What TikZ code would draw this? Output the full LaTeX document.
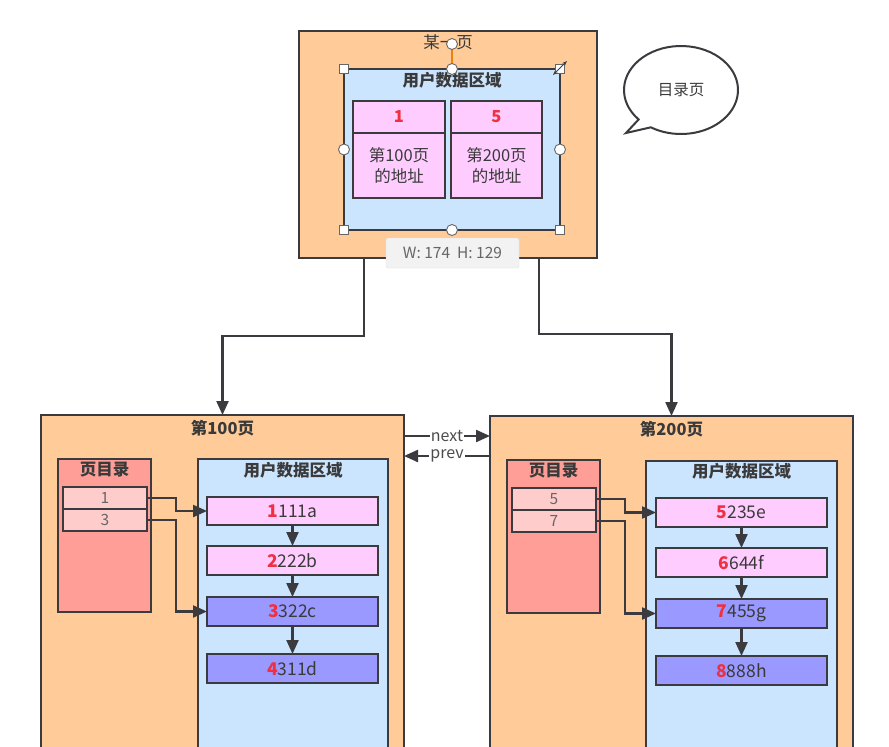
\documentclass[tikz,border=0pt]{standalone}
\usepackage{fontspec}
\setmainfont{Noto Sans CJK SC}
\usetikzlibrary{arrows.meta,calc}
\definecolor{peach}{HTML}{FFCC99}
\definecolor{ublue}{HTML}{CCE5FF}
\definecolor{upink}{HTML}{FFCCFF}
\definecolor{upurple}{HTML}{9999FF}
\definecolor{dirred}{HTML}{FF9E96}
\definecolor{entryc}{HTML}{FFCCCC}
\definecolor{bord}{HTML}{3A3A3F}
\definecolor{numred}{HTML}{F03040}
\definecolor{txt}{HTML}{3A3A3A}
\newcommand\mybox[7]{\node[#6, minimum width={#4pt-#2pt}, minimum height={#5pt-#3pt}] (#1) at ({(#2+#4)/2},{(#3+#5)/2}) {#7};}
\newcommand\rn[1]{{\color{numred}\bfseries #1}}
\tikzset{
  box/.style={draw=bord, line width=2.2pt, inner sep=0pt, outer sep=0pt, text=txt, font=\fontsize{16.5}{21}\selectfont, align=center},
  pagebox/.style={box, fill=peach},
  areabox/.style={box, fill=ublue},
  pinkbox/.style={box, fill=upink},
  recpink/.style={pinkbox, font=\fontsize{17.5}{21}\selectfont},
  recpurple/.style={box, fill=upurple, font=\fontsize{17.5}{21}\selectfont},
  dirbox/.style={box, fill=dirred},
  entrybox/.style={box, fill=entryc, line width=2pt, font=\fontsize{15.5}{18}\selectfont, text=black!60},
  ttl/.style={anchor=north, text=txt, font=\fontsize{16.5}{21}\selectfont\bfseries, inner sep=0pt},
  conn/.style={draw=bord, line width=2.2pt, -{Triangle[length=14pt,width=12pt]}},
  lbl/.style={fill=white, inner sep=1pt, text=black!70, font=\fontsize{16}{18}\selectfont},
  hsq/.style={draw=black!60, fill=white, line width=0.9pt, minimum size=9pt, inner sep=0pt},
  hci/.style={draw=black!60, fill=white, line width=0.9pt, circle, minimum size=11pt, inner sep=0pt},
}
\begin{document}
\begin{tikzpicture}[x=1pt,y=-1pt]
\clip (0,0) rectangle (889,747);
\fill[white] (0,0) rectangle (889,747);

% top page
\mybox{top}{299}{31}{597}{258}{pagebox}{}
\node[anchor=north, text=txt, font=\fontsize{16.5}{21}\selectfont, inner sep=0pt] (toptitle) at (448,34) {某一页};
\mybox{toparea}{344}{69}{560}{230}{areabox}{}
\node[ttl] (topareat) at (452,72) {用户数据区域};
\mybox{k1}{353}{101}{445}{133}{pinkbox}{\rn{1}}
\mybox{a1}{353}{133}{445}{198}{pinkbox}{第100页\\的地址}
\mybox{k5}{451}{101}{542}{133}{pinkbox}{\rn{5}}
\mybox{a5}{451}{133}{542}{198}{pinkbox}{第200页\\的地址}

% selection handles
\draw[draw=orange!70!brown, line width=1.2pt] (toparea.north) -- (452,44);
\node[hci] (rot) at (452,44) {};
\node[hsq] (h1) at (toparea.north west) {};
\node[hsq] (h2) at (toparea.north east) {};
\node[hsq] (h3) at (toparea.south west) {};
\node[hsq] (h4) at (toparea.south east) {};
\node[hci] (h5) at (toparea.north) {};
\node[hci] (h6) at (toparea.south) {};
\node[hci] (h7) at (toparea.west) {};
\node[hci] (h8) at (toparea.east) {};
\draw[black!75, line width=1pt, {Stealth[length=5pt]}-{Stealth[length=5pt]}] (553,75) -- (567,61);

% tooltip
\node[draw=black!12, fill=black!5, rounded corners=2pt, minimum width=133pt, minimum height=30pt, text=black!60, font=\fontsize{15.5}{18}\selectfont] (tip) at (452.5,253) {W: 174\ \ H: 129};

% speech bubble
\draw[line width=2pt, draw=bord, fill=white] (681,90) ++(138:57 and 44) arc[start angle=138, end angle=482, x radius=57, y radius=44] -- (626,133) -- cycle;
\node[text=txt, font=\fontsize{15.5}{19}\selectfont] (bub) at (681,90) {目录页};

% page 100
\mybox{p100}{41}{415}{404}{770}{pagebox}{}
\node[ttl] (p100t) at (222.5,420) {第100页};
\mybox{d100}{58}{459}{151}{612}{dirbox}{}
\node[ttl] (d100t) at (104.5,462) {页目录};
\mybox{e1}{63}{487}{147}{509}{entrybox}{1}
\mybox{e3}{63}{509}{147}{531}{entrybox}{3}
\mybox{ua100}{198}{459}{388}{770}{areabox}{}
\node[ttl] (ua100t) at (293,462) {用户数据区域};
\mybox{r1}{207}{497}{378}{525}{recpink}{\rn{1}111a}
\mybox{r2}{207}{546}{378}{575}{recpink}{\rn{2}222b}
\mybox{r3}{207}{597}{378}{626}{recpurple}{\rn{3}322c}
\mybox{r4}{207}{654}{378}{683}{recpurple}{\rn{4}311d}

% page 200
\mybox{p200}{490}{416}{853}{770}{pagebox}{}
\node[ttl] (p200t) at (671.5,421) {第200页};
\mybox{d200}{507}{460}{600}{613}{dirbox}{}
\node[ttl] (d200t) at (553.5,463) {页目录};
\mybox{e5}{512}{488}{596}{510}{entrybox}{5}
\mybox{e7}{512}{510}{596}{532}{entrybox}{7}
\mybox{ua200}{646}{461}{837}{770}{areabox}{}
\node[ttl] (ua200t) at (741.5,463) {用户数据区域};
\mybox{s5}{656}{498}{827}{527}{recpink}{\rn{5}235e}
\mybox{s6}{656}{548}{827}{577}{recpink}{\rn{6}644f}
\mybox{s7}{656}{599}{827}{628}{recpurple}{\rn{7}455g}
\mybox{s8}{656}{656}{827}{685}{recpurple}{\rn{8}888h}

% connectors from top page
\draw[conn] ([xshift=-84pt]top.south) -- ++(0,78) -| (p100.north);
\draw[conn] ([xshift=91pt]top.south) -- ++(0,76) -| (p200.north);

% next / prev
\draw[conn] (p100.north east |- 0,436) -- node[lbl]{next} (p200.north west |- 0,436);
\draw[conn] (p200.north west |- 0,456) -- node[lbl]{prev} (p100.north east |- 0,456);

% page 100 inner
\draw[conn] (e1.east) -- ++(29,0) |- (r1.west);
\draw[conn] (e3.east) -- ++(29,0) |- (r3.west);
\draw[conn] (r1.south) -- (r2.north);
\draw[conn] (r2.south) -- (r3.north);
\draw[conn] (r3.south) -- (r4.north);

% page 200 inner
\draw[conn] (e5.east) -- ++(29,0) |- (s5.west);
\draw[conn] (e7.east) -- ++(29,0) |- (s7.west);
\draw[conn] (s5.south) -- (s6.north);
\draw[conn] (s6.south) -- (s7.north);
\draw[conn] (s7.south) -- (s8.north);
\end{tikzpicture}
\end{document}
